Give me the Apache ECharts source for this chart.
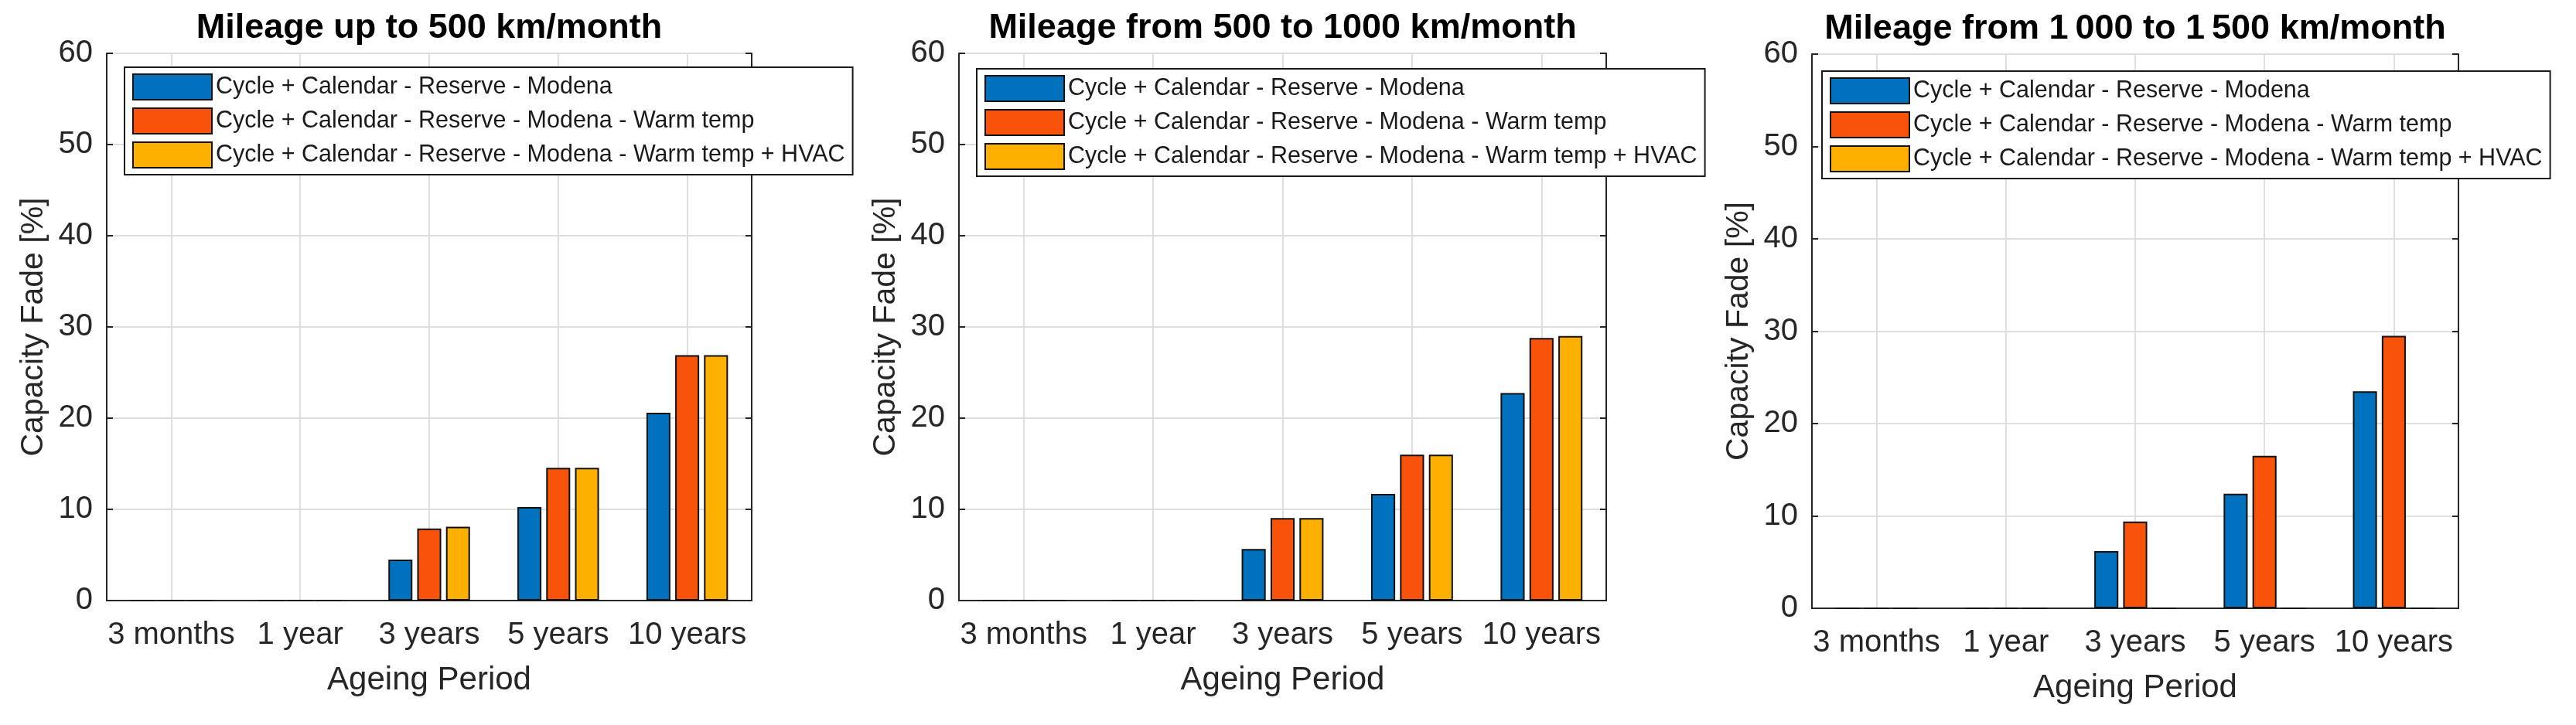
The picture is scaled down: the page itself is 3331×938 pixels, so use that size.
<!DOCTYPE html>
<html>
<head>
<meta charset="UTF-8">
<title>Capacity fade by mileage</title>
<script src="https://cdn.jsdelivr.net/npm/echarts@6/dist/echarts.min.js"></script>
<style>
    body, html {
        margin: 0;
        padding: 0;
        width: 3331px;
        height: 938px;
        background: #fff;
        overflow: hidden;
    }

    .panel {
        position: absolute;
        top: 0;
        height: 938px;
    }
</style>
</head>
<body>
<div id="p1" class="panel" style="left:0;width:1110px"></div>
<div id="p2" class="panel" style="left:1110px;width:1110px"></div>
<div id="p3" class="panel" style="left:2220px;width:1111px"></div>
<script>
    var categories = ['3 months', '1 year', '3 years', '5 years', '10 years'];
    var seriesNames = [
        'Cycle + Calendar - Reserve - Modena',
        'Cycle + Calendar - Reserve - Modena - Warm temp',
        'Cycle + Calendar - Reserve - Modena - Warm temp + HVAC'
    ];
    var barColors = ['#0072BD', '#F9530B', '#FDB000'];
    var titles = [
        'Mileage up to 500 km/month',
        'Mileage from 500 to 1000 km/month',
        'Mileage from 1\u2009000 to 1\u2009500 km/month'
    ];
    var yMin = 0, yMax = 60, yStep = 10;

    // up to 500 km/month
    var p1Modena = [0, 0, 4.5, 10.25, 20.6];
    var p1Warm = [0, 0, 7.9, 14.55, 26.9];
    var p1Hvac = [0, 0, 8.1, 14.55, 26.9];

    // 500 - 1000 km/month
    var p2Modena = [0, 0, 5.65, 11.7, 22.75];
    var p2Warm = [0, 0, 9.05, 16.0, 28.8];
    var p2Hvac = [0, 0, 9.05, 16.0, 29.0];

    // 1000 - 1500 km/month (no HVAC bars)
    var p3Modena = [0, 0, 6.2, 12.4, 23.5];
    var p3Warm = [0, 0, 9.4, 16.5, 29.5];
    var p3Hvac = [0, 0, 0, 0, 0];

    var axisColor = '#262626';
    var gridColor = '#dfdfdf';
    var font = 'Liberation Sans, Arial, Helvetica, sans-serif';

    function buildOption(p) {
        var series = p.data.map(function (vals, i) {
            return {
                name: seriesNames[i],
                type: 'bar',
                xAxisIndex: 0,
                yAxisIndex: 0,
                data: vals,
                barWidth: '18.6%',
                barGap: '20%',
                itemStyle: {color: barColors[i], borderColor: '#111', borderWidth: 2}
            };
        });
        return {
            animation: false,
            textStyle: {fontFamily: font},
            grid: {
                left: p.grid[0], top: p.grid[1], width: p.grid[2], height: p.grid[3],
                containLabel: false, outerBoundsMode: 'none'
            },
            legend: {
                orient: 'vertical',
                left: p.legend[0],
                top: p.legend[1],
                itemWidth: 102,
                itemHeight: 33,
                itemGap: 9,
                padding: [8, 10, 8, 10],
                backgroundColor: '#fff',
                borderColor: '#1a1a1a',
                borderWidth: 2,
                borderRadius: 0,
                icon: 'rect',
                selectedMode: false,
                itemStyle: {borderColor: '#111', borderWidth: 2},
                textStyle: {fontSize: 30.5, color: '#1a1a1a', fontFamily: font},
                data: seriesNames
            },
            xAxis: [
                {
                    type: 'category',
                    position: 'bottom',
                    data: categories,
                    axisLine: {lineStyle: {color: axisColor, width: 2}},
                    axisTick: {inside: true, alignWithLabel: true, length: 8, lineStyle: {color: axisColor, width: 2}},
                    axisLabel: {fontSize: 40, color: axisColor, margin: 25, interval: 0},
                    splitLine: {show: false},
                    name: 'Ageing Period',
                    nameLocation: 'middle',
                    nameGap: 82,
                    nameTextStyle: {fontSize: 42, color: axisColor}
                },
                {
                    type: 'category',
                    position: 'top',
                    data: categories,
                    axisLine: {lineStyle: {color: axisColor, width: 2}},
                    axisTick: {inside: true, alignWithLabel: true, length: 8, lineStyle: {color: axisColor, width: 2}},
                    axisLabel: {show: false},
                    splitLine: {show: false},
                    name: p.title,
                    nameLocation: 'middle',
                    nameGap: 10,
                    nameTextStyle: {fontSize: 45, fontWeight: 'bold', color: '#000'}
                },
                {
                    // vertical grid lines at the category centres
                    type: 'value',
                    min: 0,
                    max: 10,
                    interval: 1,
                    axisLine: {show: false},
                    axisTick: {show: false},
                    axisLabel: {show: false},
                    splitLine: {show: true, lineStyle: {color: ['rgba(0,0,0,0)', gridColor], width: 2}}
                }
            ],
            yAxis: [
                {
                    type: 'value',
                    position: 'left',
                    min: yMin,
                    max: yMax,
                    interval: yStep,
                    axisLine: {show: true, lineStyle: {color: axisColor, width: 2}},
                    axisTick: {show: true, inside: true, length: 8, lineStyle: {color: axisColor, width: 2}},
                    axisLabel: {fontSize: 40, color: axisColor, margin: 18},
                    splitLine: {show: true, lineStyle: {color: gridColor, width: 2}},
                    name: 'Capacity Fade [%]',
                    nameLocation: 'middle',
                    nameGap: 72,
                    nameTextStyle: {fontSize: 41, color: axisColor}
                },
                {
                    type: 'value',
                    position: 'right',
                    min: yMin,
                    max: yMax,
                    interval: yStep,
                    axisLine: {show: true, lineStyle: {color: axisColor, width: 2}},
                    axisTick: {show: true, inside: true, length: 8, lineStyle: {color: axisColor, width: 2}},
                    axisLabel: {show: false},
                    splitLine: {show: false}
                }
            ],
            series: series
        };
    }

    var panels = [
        {id: 'p1', title: titles[0], grid: [138, 69, 834, 708], legend: [161, 87], data: [p1Modena, p1Warm, p1Hvac]},
        {id: 'p2', title: titles[1], grid: [130, 69, 837, 708], legend: [153, 89], data: [p2Modena, p2Warm, p2Hvac]},
        {id: 'p3', title: titles[2], grid: [123, 70, 836, 717], legend: [136, 92], data: [p3Modena, p3Warm, p3Hvac]}
    ];

    panels.forEach(function (p) {
        var chart = echarts.init(document.getElementById(p.id), null, {renderer: 'canvas'});
        chart.setOption(buildOption(p));
    });
</script>
</body>
</html>
